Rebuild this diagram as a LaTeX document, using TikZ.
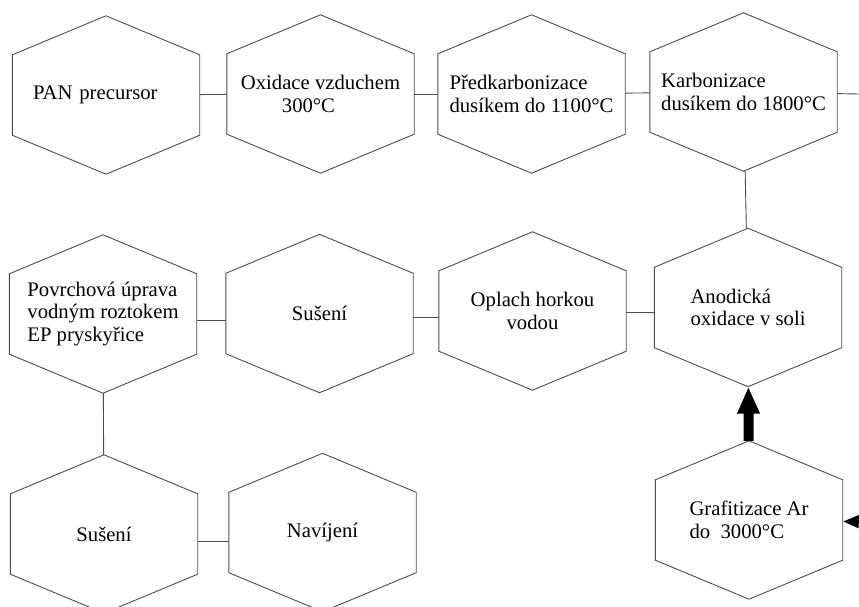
\documentclass[tikz,border=0pt]{standalone}
\usepackage{fontspec}
\setmainfont{Liberation Serif}
\usepackage{tikz}
\usetikzlibrary{arrows.meta}

\begin{document}
\begin{tikzpicture}[x=1pt, y=-1pt,
    hexa/.style={minimum width=187pt, minimum height=158pt, inner sep=0pt,
      font=\fontsize{20.7}{22.5}\selectfont},
    hexline/.style={draw=black!70, line width=0.9pt},
    link/.style={draw=black!70, line width=0.9pt},
    bigarrow/.style={line width=10pt, -{Triangle[length=27pt, width=21pt]}},
    sidearrow/.style={line width=4pt, -{Triangle[length=16pt, width=12pt]}}]
    \useasboundingbox (0,0) rectangle (859,607);

    % first row
    \node[hexa, text width=146pt, align=left] (pan) at (106,95) {PAN precursor};
    \node[hexa, align=left] (oxid) at (320.5,94) {Oxidace vzduchem\\\hspace*{41pt}300°C};
    \node[hexa, align=left] (predk) at (531.5,94) {Předkarbonizace\\dusíkem do 1100°C};
    \node[hexa, align=left] (karb) at (743.5,92) {Karbonizace\\dusíkem do 1800°C};

    % second row
    \node[hexa, align=left] (povrch) at (103,314) {Povrchová úprava\\vodným roztokem\\EP pryskyřice};
    \node[hexa] (suseni) at (319.5,313.5) {Sušení};
    \node[hexa, align=center] (oplach) at (532.5,311) {Oplach horkou\\vodou};
    \node[hexa, align=left] (anod) at (748,307.5) {Anodická\\oxidace v soli};

    % third row
    \node[hexa] (susenib) at (104,534) {Sušení};
    \node[hexa] (navij) at (322.5,532.5) {Navíjení};
    \node[hexa, align=left] (graf) at (749,520) {Grafitizace Ar\\do\ \ 3000°C};

    \foreach \n in {pan,oxid,predk,karb,povrch,suseni,oplach,anod,susenib,navij,graf}
      \draw[hexline] (\n.north) -- ([yshift=-39pt]\n.north east) -- ([yshift=39pt]\n.south east)
        -- (\n.south) -- ([yshift=39pt]\n.south west) -- ([yshift=-39pt]\n.north west) -- cycle;

    \coordinate (rout) at (859,94);
    \coordinate (rin) at (880,522);

    \draw[link] (pan) -- (oxid);
    \draw[link] (oxid) -- (predk);
    \draw[link] (predk) -- (karb);
    \draw[link] (karb) -- (rout);
    \draw[link] (karb) -- (anod);
    \draw[link] ([yshift=-4.5pt]anod.west) -- ([yshift=-1pt]oplach.east);
    \draw[link] ([yshift=-6pt]oplach.west) -- ([yshift=-3.5pt]suseni.east);
    \draw[link] ([yshift=-6.5pt]suseni.west) -- ([yshift=-6pt]povrch.east);
    \draw[link] (povrch) -- (susenib);
    \draw[link] ([yshift=-7pt]susenib.east) -- ([yshift=-8.5pt]navij.west);

    \draw[bigarrow] (graf) -- (anod);
    \draw[sidearrow] (rin) -- (graf);
\end{tikzpicture}
\end{document}
